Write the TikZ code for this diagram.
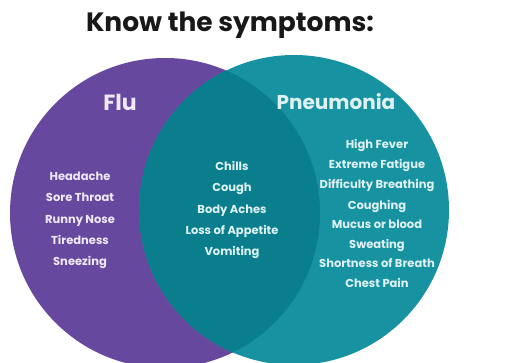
\documentclass[tikz,border=0pt]{standalone}
\usepackage{fontspec}
\setmainfont{Poppins}[BoldFont=* Bold]
\definecolor{flupurple}{RGB}{102,72,158}
\definecolor{pneuteal}{RGB}{22,146,160}
\definecolor{overteal}{RGB}{10,126,140}
\definecolor{fluwhite}{RGB}{238,232,248}
\definecolor{tealwhite}{RGB}{222,242,244}
\definecolor{titleblack}{RGB}{24,24,24}
\begin{document}
\begin{tikzpicture}[x=1pt,y=-1pt,
  circ/.style={circle,inner sep=0pt,minimum size=310pt},
  heading/.style={font=\bfseries\fontsize{22}{22}\selectfont,text=fluwhite,inner sep=0pt,anchor=center},
  item/.style={font=\bfseries\fontsize{11.5}{11.5}\selectfont,inner sep=0pt,anchor=center,text height=8pt,text depth=0pt},
  fluitem/.style={item,text=fluwhite},
  tealitem/.style={item,text=tealwhite}]
\useasboundingbox (0,0) rectangle (505,363);
\fill[white] (0,0) rectangle (505,363);
\node[font=\bfseries\fontsize{26.5}{26.5}\selectfont,text=titleblack,inner sep=0pt] (title) at (230,25) {Know the symptoms:};
\node[circ,fill=flupurple] (flu) at (165,213) {};
\node[circ,fill=pneuteal] (pneu) at (294,210) {};
\begin{scope}
  \clip (flu.center) circle[radius=155pt];
  \fill[overteal] (pneu.center) circle[radius=155pt];
\end{scope}
\node[heading] (flulabel) at (120,102) {Flu};
\node[heading,text=tealwhite,font=\bfseries\fontsize{20}{20}\selectfont] (pneulabel) at (336,102) {Pneumonia};
% Flu only
\node[fluitem] (f1) at (80,177) {Headache};
\node[fluitem] (f2) at (80,198) {Sore Throat};
\node[fluitem] (f3) at (80,219) {Runny Nose};
\node[fluitem] (f4) at (80,240) {Tiredness};
\node[fluitem] (f5) at (80,261) {Sneezing};
% Both
\node[tealitem] (b1) at (232,167) {Chills};
\node[tealitem] (b2) at (232,188) {Cough};
\node[tealitem] (b3) at (232,209) {Body Aches};
\node[tealitem] (b4) at (232,230) {Loss of Appetite};
\node[tealitem] (b5) at (232,251) {Vomiting};
% Pneumonia only
\node[tealitem] (p1) at (377,145) {High Fever};
\node[tealitem] (p2) at (377,165) {Extreme Fatigue};
\node[tealitem] (p3) at (377,185) {Difficulty Breathing};
\node[tealitem] (p4) at (377,205) {Coughing};
\node[tealitem] (p5) at (377,224) {Mucus or blood};
\node[tealitem] (p6) at (377,244) {Sweating};
\node[tealitem] (p7) at (377,263) {Shortness of Breath};
\node[tealitem] (p8) at (377,283) {Chest Pain};
\end{tikzpicture}
\end{document}
